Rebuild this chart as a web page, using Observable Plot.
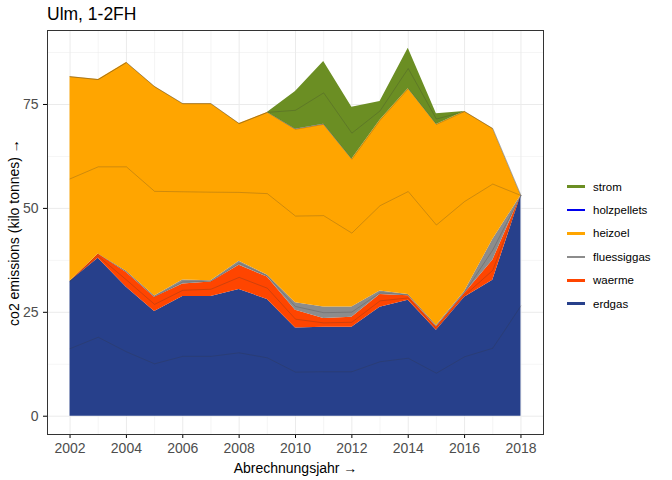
<!DOCTYPE html>
<html>
<head>
<meta charset="utf-8">
<script src="https://cdn.jsdelivr.net/npm/d3@7"></script>
<script src="https://cdn.jsdelivr.net/npm/@observablehq/plot@0.6"></script>
<style>
  body { margin: 0; font-family: "Liberation Sans", Arial, sans-serif; background: #fff; }
  #wrap { position: relative; width: 672px; height: 480px; }
  #title { position: absolute; left: 47px; top: 4px; font-size: 17.5px; color: #000; }
  #chart { position: absolute; left: 0; top: 30px; }
  #legend { position: absolute; left: 567px; top: 175px; font-size: 11.5px; }
  .row { display: flex; align-items: center; height: 23.4px; }
  .key { width: 18px; height: 2.5px; margin-right: 8px; }
</style>
</head>
<body>
<div id="wrap">
  <div id="title">Ulm, 1-2FH</div>
  <div id="chart"></div>
  <div id="legend"></div>
</div>
<script>
const years = d3.range(2002, 2019);
const erdgas      = [32.5, 38, 31, 25.2, 28.8, 28.8, 30.5, 28.1, 21.2, 21.4, 21.4, 26.2, 27.9, 20.7, 28.6, 32.7, 53.1];
const waerme      = [0, 1, 3.6, 3.4, 3, 3.5, 5.8, 5.4, 4.3, 2.1, 2.4, 3.1, 1.1, 0.8, 0.9, 4.8, 0];
const fluessiggas = [0, 0, 0.3, 0.3, 1, 0.3, 1, 0.5, 1.8, 2.8, 2.5, 0.8, 0.3, 0.3, 0.5, 5, 0];
const heizoel     = [49.2, 42, 50.2, 50.4, 42.4, 42.6, 33.1, 39.1, 41.7, 43.9, 35.5, 41.1, 49.5, 48.4, 43.3, 26.7, 0];
const holzpellets = [0, 0, 0, 0, 0, 0, 0, 0, 0.05, 0.05, 0.05, 0, 0, 0, 0, 0, 0];
const strom       = [0, 0, 0, 0, 0, 0, 0, 0, 9.1, 15.1, 12.5, 4.5, 9.7, 2.6, 0, 0, 0];

const stackOrder = ["erdgas", "waerme", "fluessiggas", "heizoel", "holzpellets", "strom"];
const legendOrder = ["strom", "holzpellets", "heizoel", "fluessiggas", "waerme", "erdgas"];
const colors = {erdgas: "#27408B", waerme: "#FF4500", fluessiggas: "#8C8C8C", heizoel: "#FFA500", holzpellets: "#0000EE", strom: "#6B8E23"};
const series = {erdgas, waerme, fluessiggas, heizoel, holzpellets, strom};

const rows = [];
for (const k of stackOrder) years.forEach((y, i) => rows.push({year: y, type: k, value: series[k][i]}));

const xMajor = d3.range(2002, 2019, 2);
const xMinor = d3.range(2003, 2019, 2);
const yMajor = [0, 25, 50, 75];
const yMinor = [12.5, 37.5, 62.5, 87.5];

const chart = Plot.plot({
  width: 555, height: 450,
  marginLeft: 47, marginRight: 12, marginTop: 0, marginBottom: 46,
  style: {fontFamily: "Liberation Sans, Arial, sans-serif", fontSize: "11px"},
  x: {domain: [2001.2, 2018.8], ticks: xMajor, tickFormat: d => String(d), label: "Abrechnungsjahr", labelAnchor: "center", labelOffset: 38, tickSize: 4},
  y: {domain: [-4.4, 92.8], ticks: yMajor, label: "co2 emissions (kilo tonnes)", labelAnchor: "center", labelOffset: 38, tickSize: 4},
  color: {domain: stackOrder, range: stackOrder.map(k => colors[k])},
  marks: [
    Plot.ruleX(xMinor, {stroke: "#ebebeb", strokeWidth: 0.5}),
    Plot.ruleY(yMinor, {stroke: "#ebebeb", strokeWidth: 0.5}),
    Plot.ruleX(xMajor, {stroke: "#ebebeb", strokeWidth: 1}),
    Plot.ruleY(yMajor, {stroke: "#ebebeb", strokeWidth: 1}),
    Plot.areaY(rows, {x: "year", y: "value", fill: "type", z: "type", order: stackOrder}),
    Plot.lineY(rows, Plot.stackY({x: "year", y: "value", z: "type", order: stackOrder, stroke: "#333", strokeWidth: 0.4, strokeOpacity: 0.6})),
    Plot.frame({stroke: "#333"})
  ]
});
chart.querySelectorAll("[aria-label$='label'] text, [aria-label='x-axis label'], [aria-label='y-axis label']").forEach(t => { t.style.fontSize = "14px"; t.style.fill = "#000"; });
chart.querySelectorAll("[aria-label='x-axis tick label'] text, [aria-label='y-axis tick label'] text").forEach(t => t.style.fill = "#4d4d4d");
document.getElementById("chart").appendChild(chart);

const leg = d3.select("#legend");
for (const k of legendOrder) {
  const r = leg.append("div").attr("class", "row");
  r.append("div").attr("class", "key").style("background", colors[k]);
  r.append("span").text(k);
}
</script>
</body>
</html>
